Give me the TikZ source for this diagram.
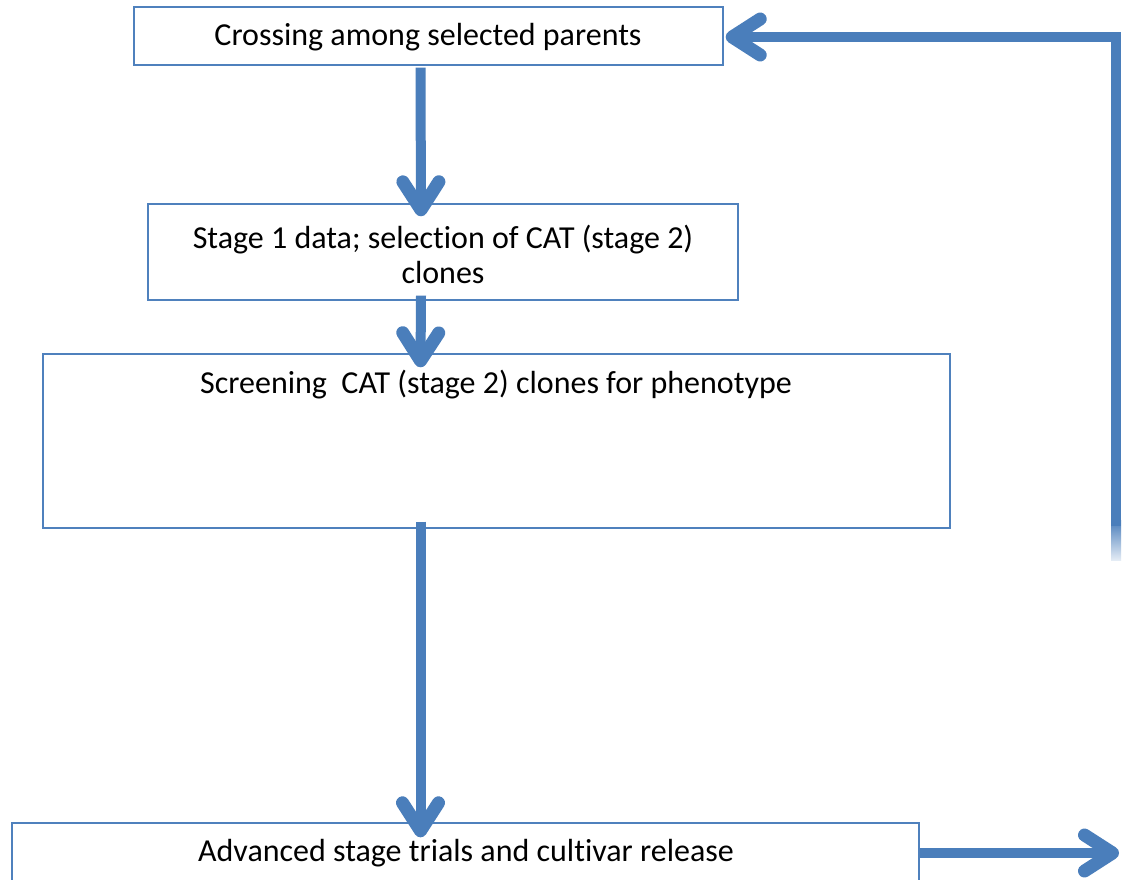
\documentclass[tikz,border=0pt]{standalone}
\usepackage{fontspec}
\setmainfont{Carlito}[Ligatures=NoCommon]
\usetikzlibrary{arrows.meta,calc}
\definecolor{arrowblue}{RGB}{74,126,187}
\definecolor{boxblue}{RGB}{79,129,189}
\begin{document}
\begin{tikzpicture}[x=1pt,y=-1pt,
  box/.style={draw=boxblue,line width=1.4pt,rectangle,inner sep=0pt,fill=white},
  txt/.style={font=\fontsize{32}{35}\selectfont,align=center,text=black,inner sep=0pt},
  flow/.style={draw=arrowblue,line width=10pt,-{Straight Barb[round,length=28pt,width=36pt,line width=13pt]}}]
\useasboundingbox (0,0) rectangle (1122,879);
\fill[white] (0,0) rectangle (1122,879);
% boxes
\node[box,minimum width=589pt,minimum height=58pt] (b1) at (428.5,36) {};
\node[txt] (t1) at (428,37) {Crossing among selected parents};
\node[box,minimum width=590pt,minimum height=96pt] (b2) at (443,252) {};
\node[txt] (t2) at (443,254) {Stage 1 data; selection of CAT (stage 2)\\clones};
\node[box,minimum width=907pt,minimum height=174pt] (b3) at (496.5,441) {};
\node[txt] (t3) at (496,385) {Screening\ \ CAT (stage 2) clones for phenotype};
\node[box,minimum width=907pt,minimum height=90pt] (b4) at (465.5,868) {};
\node[txt] (t4) at (466,853) {Advanced stage trials and cultivar release};
% arrows
\draw[flow] ($(b1.south)+(-8,2)$) -- ($(b2.north)+(-22,13)$);
\draw[flow] ($(b2.south)+(-22,-5)$) -- ($(b3.north)+(-76,14)$);
\draw[flow] ($(b3.south)+(-76,-7)$) -- ($(b4.north)+(-45,15)$);
\coordinate (rb) at (1116,526);
\coordinate (rt) at (1116,37);
\shade[top color=arrowblue,bottom color=arrowblue!15] (1111,520) rectangle (1121,560);
\draw[flow] (rb) -- (rt) -- ($(b1.east |- rt)+(2,0)$);
\coordinate (re) at (1119,853);
\draw[flow] (b4.east |- re) -- (re);
\end{tikzpicture}
\end{document}
